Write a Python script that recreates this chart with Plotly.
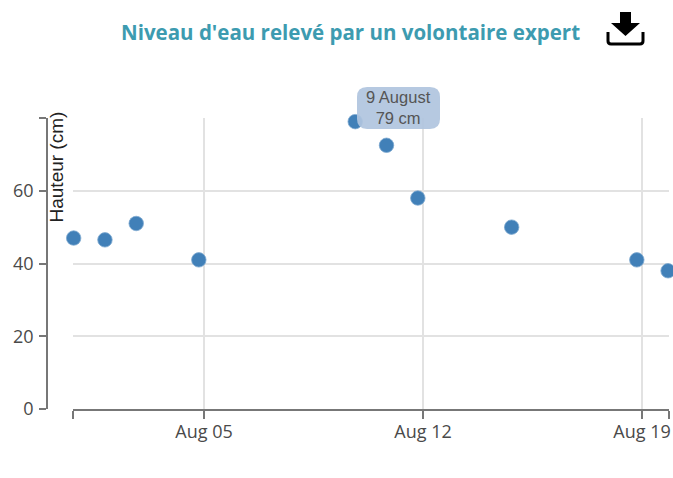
import plotly.graph_objects as go

dates = ["2021-07-31 20:00", "2021-08-01 20:00", "2021-08-02 20:00", "2021-08-04 20:00",
         "2021-08-09 20:00", "2021-08-10 20:00", "2021-08-11 20:00", "2021-08-14 20:00",
         "2021-08-18 20:00", "2021-08-19 20:00"]
heights = [47, 46.5, 51, 41, 79, 72.5, 58, 50, 41, 38]
x_ticks = ["2021-08-05", "2021-08-12", "2021-08-19"]
x_labels = ["Aug 05", "Aug 12", "Aug 19"]
y_ticks = [0, 20, 40, 60]
x_range = ["2021-07-31 19:30", "2021-08-19 20:42"]
y_range = [0, 80]
title = "Niveau d'eau relevé par un volontaire expert"
y_title = "Hauteur (cm)"
tooltip = "9 August<br>79 cm"

W, H = 673, 478
L, R, T, B = 47, 669, 118, 409
TICK = "#777777"
GRID = "#e2e2e2"

def px(x):
    return (x - L) / (R - L)
def py(y):
    return (B - y) / (B - T)
def path(cmds):
    out = []
    for c in cmds:
        if isinstance(c, str):
            out.append(c)
        else:
            out.append(f"{px(c[0]):.5f},{py(c[1]):.5f}")
    return " ".join(out)

fig = go.Figure(go.Scatter(
    x=dates, y=heights, mode="markers", cliponaxis=False,
    marker=dict(color="#4180b8", size=14.5, line=dict(color="#7fa9d0", width=0.8)),
    hoverinfo="skip",
))

tip = path(["M", (367, 87), "L", (430, 87), "Q", (440, 87), (440, 97), "L", (440, 119),
            "Q", (440, 129), (430, 129), "L", (367, 129), "Q", (357, 129), (357, 119),
            "L", (357, 97), "Q", (357, 87), (367, 87), "Z"])
arrow = path(["M", (620, 12), "L", (631, 12), "L", (631, 23), "L", (640, 23), "L", (625.5, 36),
              "L", (611, 23), "L", (620, 23), "Z"])
tray = path(["M", (608, 32), "L", (608, 41), "Q", (608, 44), (611, 44), "L", (640, 44),
             "Q", (643, 44), (643, 41), "L", (643, 32)])

fig.update_layout(
    width=W, height=H, autosize=False,
    margin=dict(l=L, r=W - R, t=T, b=H - B, pad=0),
    paper_bgcolor="white", plot_bgcolor="white", showlegend=False,
    font=dict(family="Open Sans", size=18, color="#4a4a4a"),
    xaxis=dict(
        type="date", range=x_range, domain=[px(73), 1], automargin=False,
        tickmode="array", tickvals=x_ticks, ticktext=x_labels,
        showgrid=True, gridcolor=GRID, gridwidth=1.5, zeroline=False,
        showline=True, linecolor=TICK, linewidth=1.5,
        ticks="outside", ticklen=8, tickcolor=TICK, tickwidth=1.5,
        tickangle=0, ticklabelstandoff=-2,
        minor=dict(tickmode="array", tickvals=x_range, ticks="outside", ticklen=8,
                   tickcolor=TICK, tickwidth=1.5, showgrid=False),
    ),
    yaxis=dict(
        range=y_range, anchor="free", position=0, automargin=False,
        tickmode="array", tickvals=y_ticks,
        showgrid=True, gridcolor=GRID, gridwidth=1.5, zeroline=False,
        showline=True, linecolor=TICK, linewidth=1.5,
        ticks="outside", ticklen=7, tickcolor=TICK, tickwidth=1.5,
        ticklabelstandoff=2,
        minor=dict(tickmode="array", tickvals=[y_range[1]], ticks="outside", ticklen=7,
                   tickcolor=TICK, tickwidth=1.5, showgrid=False),
    ),
    shapes=[
        dict(type="path", xref="paper", yref="paper", path=tip, fillcolor="rgba(176,196,222,0.92)",
             line=dict(width=0), layer="above"),
        dict(type="path", xref="paper", yref="paper", path=arrow, fillcolor="black",
             line=dict(width=0), layer="above"),
        dict(type="path", xref="paper", yref="paper", path=tray, line=dict(color="black", width=3),
             layer="above"),
    ],
    annotations=[
        dict(text=f"<b>{title}</b>", xref="paper", yref="paper", x=px(350.5), y=py(32),
             xanchor="center", yanchor="middle", showarrow=False,
             font=dict(family="Open Sans", size=20.5, color="#3d9bb0")),
        dict(text=y_title, xref="paper", yref="paper", x=px(55.5), y=py(167), textangle=-90,
             xanchor="center", yanchor="middle", showarrow=False,
             font=dict(family="Liberation Sans", size=19, color="#222222")),
        dict(text=tooltip, xref="paper", yref="paper", x=px(398.5), y=py(108),
             xanchor="center", yanchor="middle", showarrow=False,
             font=dict(family="Liberation Sans", size=16.5, color="#555555"), align="center"),
    ],
)
fig.write_html("out.html", config=dict(displayModeBar=False),
               default_width="673px", default_height="478px",
               post_script="document.body.style.margin='0';")
